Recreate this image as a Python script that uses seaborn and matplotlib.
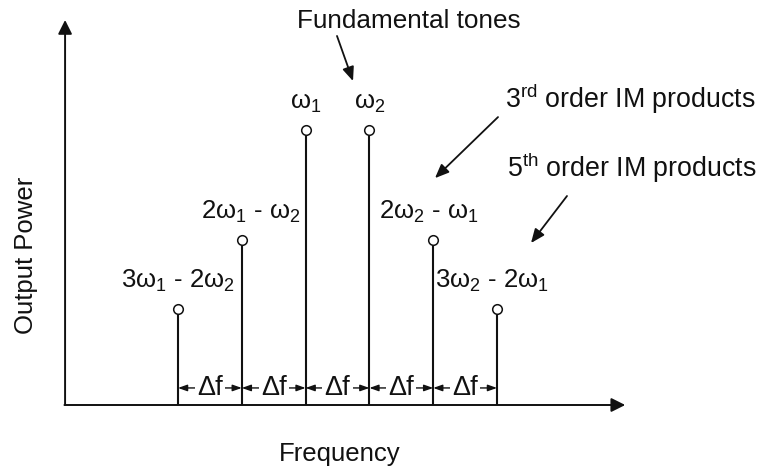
import matplotlib
matplotlib.use("Agg")
import matplotlib.pyplot as plt
import seaborn as sns
import pandas as pd

# Two-tone intermodulation spectrum; frequencies are offsets (in units of Δf)
# from the midpoint between the two fundamental tones.
freq_offset = [-2.5, -1.5, -0.5, 0.5, 1.5, 2.5]
output_power = [0.35, 0.6, 1.0, 1.0, 0.6, 0.35]
tone_labels = [
    r"$\mathregular{3ω_1}$ - $\mathregular{2ω_2}$",
    r"$\mathregular{2ω_1}$ - $\mathregular{ω_2}$",
    r"$\mathregular{ω_1}$",
    r"$\mathregular{ω_2}$",
    r"$\mathregular{2ω_2}$ - $\mathregular{ω_1}$",
    r"$\mathregular{3ω_2}$ - $\mathregular{2ω_1}$",
]
spacing_label = "Δf"
x_label = "Frequency"
y_label = "Output Power"
fundamental_note = "Fundamental tones"
im3_note = r"$\mathregular{3^{rd}}$ order IM products"
im5_note = r"$\mathregular{5^{th}}$ order IM products"

# horizontal nudge (pixels) of each line label relative to its line
label_nudge = [0, 9, 0, 0, -4, -5]

sns.set_theme(style="white")
plt.rcParams["font.family"] = ["Liberation Sans", "DejaVu Sans"]

ink = "#111111"
fs = 18.5
fig = plt.figure(figsize=(7.63, 4.68), dpi=100)
ax = fig.add_axes([0, 0, 1, 1])
ax.set_axis_off()

df = pd.DataFrame({"freq": freq_offset, "power": output_power})

# stems
ax.vlines(df["freq"], 0, df["power"], color=ink, lw=1.5, zorder=2)
# open circle heads
sns.scatterplot(data=df, x="freq", y="power", ax=ax, marker="o", s=48,
                facecolor="white", edgecolor=ink, linewidth=1.1, zorder=3,
                legend=False)

# line labels
for f, p, lab, dx in zip(freq_offset, output_power, tone_labels, label_nudge):
    ax.annotate(lab, xy=(f, p), xytext=(dx, 21), textcoords="offset pixels",
                ha="center", va="baseline", fontsize=fs, color=ink)

# Δf spacing markers between adjacent lines
y_df = 0.062
for a, b in zip(freq_offset[:-1], freq_offset[1:]):
    ax.annotate("", xy=(a, y_df), xytext=(b, y_df),
                arrowprops=dict(arrowstyle="<|-|>,head_length=0.45,head_width=0.16",
                                mutation_scale=12, lw=1.0, color=ink,
                                shrinkA=0, shrinkB=0))
    ax.text((a + b) / 2, y_df, spacing_label, ha="center", va="center",
            fontsize=19.5, color=ink,
            bbox=dict(boxstyle="square,pad=0.08", fc="white", ec="none"))

# coordinate axes with arrow heads
axis_arrow = dict(arrowstyle="-|>,head_length=0.6,head_width=0.3",
                  mutation_scale=14, lw=1.4, color=ink, shrinkA=0, shrinkB=0)
x0 = -4.27
ax.annotate("", xy=(x0, 1.40), xytext=(x0, 0), arrowprops=axis_arrow)
ax.annotate("", xy=(4.51, 0), xytext=(x0 - 0.01, 0), arrowprops=axis_arrow)

ax.text(0.04, -0.205, x_label, ha="center", va="baseline", fontsize=fs, color=ink)
ax.text(-4.88, 0.545, y_label, ha="center", va="center", rotation=90,
        fontsize=fs, color=ink)

# callouts
note_arrow = dict(arrowstyle="-|>,head_length=0.6,head_width=0.25",
                  mutation_scale=14, lw=1.3, color=ink, shrinkA=0, shrinkB=0)
ax.text(-0.635, 1.372, fundamental_note, ha="left", va="baseline",
        fontsize=18.8, color=ink)
ax.annotate("", xy=(0.243, 1.178), xytext=(-0.008, 1.342), arrowprops=note_arrow)

ax.text(2.625, 1.08, im3_note, ha="left", va="baseline", fontsize=19.3, color=ink)
ax.annotate("", xy=(1.528, 0.825), xytext=(2.516, 1.047), arrowprops=note_arrow)

ax.text(2.657, 0.829, im5_note, ha="left", va="baseline", fontsize=19.3, color=ink)
ax.annotate("", xy=(3.033, 0.589), xytext=(3.597, 0.760), arrowprops=note_arrow)

ax.set_xlim(-337.5 / 63.8, (763 - 337.5) / 63.8)
ax.set_ylim((405 - 468) / 275, 405 / 275)

fig.savefig("out.png", dpi=100, facecolor="white")
